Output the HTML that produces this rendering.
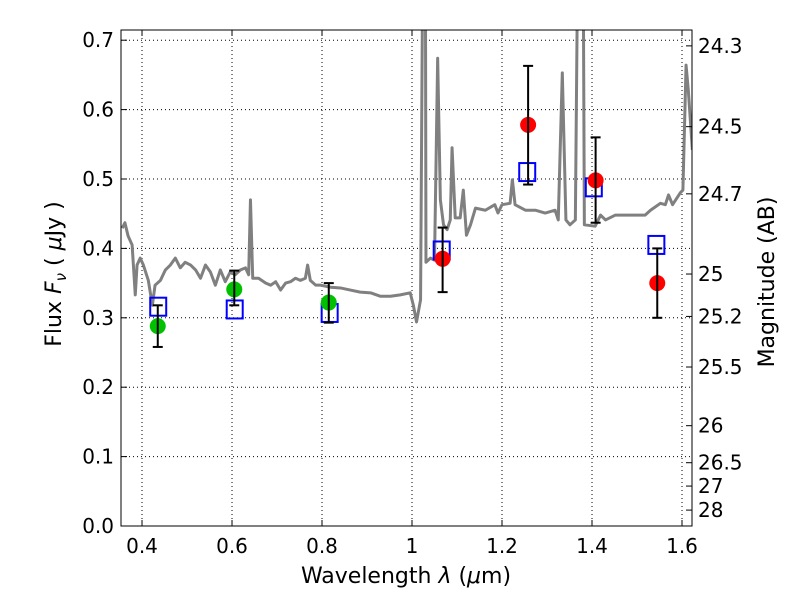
<!DOCTYPE html>
<html><head><meta charset="utf-8"><style>
body{margin:0;background:#fff}
svg text{font-family:"DejaVu Sans","Liberation Sans",sans-serif;fill:#000}
</style></head><body>
<svg id="chart" width="800" height="600" xmlns="http://www.w3.org/2000/svg">
<defs><clipPath id="clip"><rect x="121" y="30" width="571" height="496"/></clipPath></defs>
<g id="grid"></g>
<g id="spec" clip-path="url(#clip)"></g>
<g id="marks"></g>
<rect x="121" y="30" width="571" height="496" fill="none" stroke="#000" stroke-width="1"/>
<g id="axes"></g>
<text x="406" y="583" font-size="22" text-anchor="middle">Wavelength  <tspan font-style="italic">λ</tspan> (<tspan font-style="italic">μ</tspan>m)</text>
<text transform="translate(61,274) rotate(-90)" font-size="22" text-anchor="middle">Flux  <tspan font-style="italic">F</tspan><tspan font-style="italic" font-size="15" dy="5">ν</tspan><tspan dy="-5">  ( </tspan><tspan font-style="italic">μ</tspan>Jy )</text>
<text transform="translate(774,282) rotate(-90)" font-size="22" text-anchor="middle">Magnitude (AB)</text>
</svg>
<script>
const specLam=[0.356,0.362,0.369,0.378,0.385,0.389,0.396,0.403,0.414,0.423,0.429,0.441,0.452,0.463,0.474,0.485,0.496,0.508,0.519,0.530,0.541,0.552,0.563,0.574,0.585,0.596,0.607,0.619,0.630,0.637,0.641,0.646,0.659,0.675,0.686,0.697,0.708,0.719,0.730,0.741,0.752,0.763,0.768,0.774,0.786,0.797,0.819,0.841,0.863,0.885,0.908,0.930,0.952,0.974,0.996,1.003,1.010,1.019,1.023,1.030,1.031,1.041,1.050,1.057,1.063,1.070,1.078,1.085,1.089,1.096,1.107,1.114,1.121,1.130,1.141,1.163,1.184,1.191,1.200,1.218,1.223,1.229,1.252,1.274,1.296,1.318,1.325,1.334,1.342,1.351,1.363,1.367,1.381,1.383,1.407,1.419,1.430,1.452,1.474,1.496,1.518,1.530,1.552,1.563,1.570,1.579,1.596,1.602,1.609,1.614,1.623];
const specFlux=[0.429,0.437,0.418,0.405,0.333,0.376,0.386,0.376,0.354,0.318,0.347,0.354,0.369,0.376,0.386,0.372,0.380,0.376,0.369,0.357,0.376,0.366,0.347,0.369,0.352,0.366,0.362,0.369,0.372,0.362,0.470,0.357,0.357,0.350,0.347,0.352,0.340,0.350,0.352,0.357,0.354,0.357,0.376,0.354,0.347,0.347,0.344,0.343,0.340,0.337,0.336,0.331,0.331,0.333,0.336,0.318,0.294,0.326,0.73,0.73,0.380,0.386,0.383,0.674,0.470,0.434,0.427,0.441,0.545,0.444,0.444,0.484,0.419,0.434,0.458,0.455,0.463,0.451,0.463,0.465,0.499,0.463,0.455,0.455,0.451,0.455,0.441,0.653,0.441,0.434,0.441,0.73,0.73,0.434,0.432,0.448,0.441,0.448,0.448,0.448,0.448,0.455,0.465,0.463,0.477,0.463,0.480,0.484,0.664,0.628,0.542];
const greenLam=[0.435,0.605,0.815];
const greenFlux=[0.288,0.341,0.322];
const greenLo=[0.258,0.318,0.293];
const greenHi=[0.318,0.368,0.350];
const redLam=[1.068,1.258,1.408,1.545];
const redFlux=[0.385,0.578,0.498,0.350];
const redLo=[0.337,0.492,0.437,0.300];
const redHi=[0.430,0.663,0.560,0.400];
const modelLam=[0.436,0.606,0.817,1.066,1.256,1.404,1.543];
const modelFlux=[0.316,0.312,0.307,0.397,0.510,0.488,0.405];
const xTicks=[0.4,0.6,0.8,1.0,1.2,1.4,1.6];
const xTickLabels=["0.4","0.6","0.8","1","1.2","1.4","1.6"];
const yTicks=[0,0.1,0.2,0.3,0.4,0.5,0.6,0.7];
const yTickLabels=["0.0","0.1","0.2","0.3","0.4","0.5","0.6","0.7"];
const magTicks=[24.3,24.5,24.7,25,25.2,25.5,26,26.5,27,28];
const magTickLabels=["24.3","24.5","24.7","25","25.2","25.5","26","26.5","27","28"];
const X0=121,X1=692,Y0=526,Y1=30,XMIN=0.3533,XMAX=1.6222,YMIN=0,YMAX=0.7147;
const sx=v=>X0+(v-XMIN)/(XMAX-XMIN)*(X1-X0);
const sy=v=>Y0-(v-YMIN)/(YMAX-YMIN)*(Y0-Y1);
const NS="http://www.w3.org/2000/svg";
function mk(tag,attrs,parent){const e=document.createElementNS(NS,tag);for(const k in attrs)e.setAttribute(k,attrs[k]);parent.appendChild(e);return e;}
const grid=document.getElementById('grid'),axes=document.getElementById('axes'),spec=document.getElementById('spec'),marks=document.getElementById('marks');
xTicks.forEach((t,i)=>{const x=sx(t);
 const g=mk('line',{x1:x,x2:x,y1:Y1,y2:Y0,stroke:'#000','stroke-dasharray':'1,3','stroke-width':1},grid);
 
 
 mk('line',{x1:x,x2:x,y1:Y0,y2:Y0-6,stroke:'#000'},axes);
 mk('line',{x1:x,x2:x,y1:Y1,y2:Y1+6,stroke:'#000'},axes);
 const tx=mk('text',{x:x,y:Y0+27,'font-size':20,'text-anchor':'middle'},axes);tx.textContent=xTickLabels[i];
 
 
});
yTicks.forEach((t,i)=>{const y=sy(t);
 const g=mk('line',{x1:X0,x2:X1,y1:y,y2:y,stroke:'#000','stroke-dasharray':'1,3','stroke-width':1},grid);
 
 
 mk('line',{x1:X0,x2:X0+6,y1:y,y2:y,stroke:'#000'},axes);
 const tx=mk('text',{x:X0-7,y:y+7,'font-size':20,'text-anchor':'end'},axes);tx.textContent=yTickLabels[i];
 
 
});
magTicks.forEach((m,i)=>{const y=sy(Math.pow(10,(23.9-m)/2.5));
 mk('line',{x1:X1,x2:X1-6,y1:y,y2:y,stroke:'#000'},axes);
 const tx=mk('text',{x:X1+6,y:y+7,'font-size':20},axes);tx.textContent=magTickLabels[i];
 
 
});
const pl=mk('polyline',{points:specLam.map((l,i)=>sx(l)+','+sy(specFlux[i])).join(' '),fill:'none',stroke:'#808080','stroke-width':3,'stroke-linejoin':'round'},spec);


function err(l,lo,hi){const x=sx(l);mk('line',{x1:x,x2:x,y1:sy(lo),y2:sy(hi),stroke:'#000','stroke-width':2},marks);
 mk('line',{x1:x-5,x2:x+5,y1:sy(lo),y2:sy(lo),stroke:'#000','stroke-width':2},marks);
 mk('line',{x1:x-5,x2:x+5,y1:sy(hi),y2:sy(hi),stroke:'#000','stroke-width':2},marks);}
modelLam.forEach((l,i)=>{const r=mk('rect',{x:sx(l)-8,y:sy(modelFlux[i])-9,width:16,height:18,fill:'none',stroke:'#0000ff','stroke-width':2},marks);
 
 });
greenLam.forEach((l,i)=>{const c=mk('circle',{cx:sx(l),cy:sy(greenFlux[i]),r:8,fill:'#00c000'},marks);
 
 
 err(l,greenLo[i],greenHi[i]);});
redLam.forEach((l,i)=>{const c=mk('circle',{cx:sx(l),cy:sy(redFlux[i]),r:8,fill:'#ff0000'},marks);
 
 
 err(l,redLo[i],redHi[i]);});
</script>
</body></html>
